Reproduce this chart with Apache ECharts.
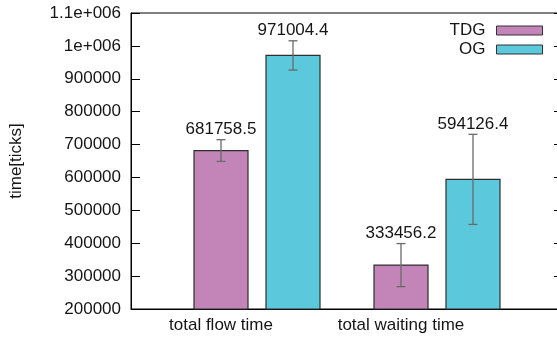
<!DOCTYPE html>
<html>
<head>
<meta charset="utf-8">
<script src="https://cdn.jsdelivr.net/npm/echarts@6/dist/echarts.min.js"></script>
<style>
  html, body { margin: 0; padding: 0; background: #fff; overflow: hidden; }
  /* the plot frame runs a few pixels past the right edge of the page */
  #chart { width: 570px; height: 338px; }
</style>
</head>
<body>
<div id="chart"></div>
<script>
// Categories and series
const categories = ['total flow time', 'total waiting time'];
const seriesNames = ['TDG', 'OG'];
const tdgValues = [681758.5, 333456.2];
const tdgErrors = [33000, 65500];
const ogValues = [971004.4, 594126.4];
const ogErrors = [44500, 137000];
// Y tick labels that use exponent notation
const yTickLabels = { 1100000: '1.1e+006', 1000000: '1e+006' };

const FONT = '"Liberation Sans", Arial, sans-serif';
const TEXT = '#151515';
const Y_MIN = 200000, Y_MAX = 1100000, Y_STEP = 100000;
const BAR_W = 0.3;          // bar width in x-axis units
const OFFSETS = [0, 0.4];   // bar centre offset from the category position
const COLORS = ['#c384b8', '#5bc8db'];

function renderer(offset, fill) {
  return function (params, api) {
    const cat = api.value(0), val = api.value(1), err = api.value(2);
    const x = cat + offset;
    const tl = api.coord([x - BAR_W / 2, val]);
    const br = api.coord([x + BAR_W / 2, Y_MIN]);
    const hi = api.coord([x, val + err]);
    const lo = api.coord([x, val - err]);
    const cap = 4.5;
    const ebStyle = { stroke: '#6a6a6a', lineWidth: 1.3 };
    return {
      type: 'group',
      children: [
        { type: 'rect',
          shape: { x: tl[0], y: tl[1], width: br[0] - tl[0], height: br[1] - tl[1] },
          style: { fill: fill, stroke: '#2e2e2e', lineWidth: 1.2 } },
        { type: 'line', shape: { x1: hi[0], y1: hi[1], x2: lo[0], y2: lo[1] }, style: ebStyle },
        { type: 'line', shape: { x1: hi[0] - cap, y1: hi[1], x2: hi[0] + cap, y2: hi[1] }, style: ebStyle },
        { type: 'line', shape: { x1: lo[0] - cap, y1: lo[1], x2: lo[0] + cap, y2: lo[1] }, style: ebStyle },
        { type: 'text',
          style: { text: val.toFixed(1), x: hi[0], y: hi[1] - 2, align: 'center',
                   verticalAlign: 'bottom', font: '17px ' + FONT, fill: TEXT } }
      ]
    };
  };
}

function rows(values, errors) {
  return values.map((v, i) => [i, v, errors[i]]);
}

const chart = echarts.init(document.getElementById('chart'), null, { renderer: 'canvas' });
chart.setOption({
  animation: false,
  backgroundColor: '#fff',
  textStyle: { fontFamily: FONT },
  grid: { left: 131, top: 13, right: 7, bottom: 29, show: true,
          borderColor: '#000', borderWidth: 1, backgroundColor: 'transparent' },
  legend: {
    orient: 'vertical', right: 27, top: 22, align: 'right',
    itemWidth: 46, itemHeight: 9, itemGap: 2, padding: 0,
    icon: 'rect',
    textStyle: { fontSize: 17, color: TEXT, fontFamily: FONT, padding: [0, 6, 0, 0] },
    data: seriesNames.map(n => ({ name: n, itemStyle: { borderColor: '#333', borderWidth: 1 } }))
  },
  xAxis: {
    type: 'value', min: -0.5, max: 1.9,
    splitLine: { show: false },
    axisTick: { show: false },
    axisLine: { show: true, onZero: false, lineStyle: { color: '#000', width: 1 } },
    axisLabel: {
      customValues: [0, 1],
      formatter: v => categories[v] || '',
      fontSize: 17, color: TEXT, fontFamily: FONT, margin: 8
    }
  },
  yAxis: [
    {
      type: 'value', position: 'left', min: Y_MIN, max: Y_MAX, interval: Y_STEP,
      name: 'time[ticks]', nameLocation: 'middle', nameGap: 106,
      nameTextStyle: { fontSize: 17, color: TEXT, fontFamily: FONT },
      splitLine: { show: false },
      axisLine: { show: true, onZero: false, lineStyle: { color: '#000', width: 1 } },
      axisTick: { show: true, inside: true, length: 9, lineStyle: { color: '#000' } },
      axisLabel: {
        fontSize: 17, color: TEXT, fontFamily: FONT, margin: 10,
        formatter: v => yTickLabels[v] || String(v)
      }
    },
    {
      type: 'value', position: 'right', min: Y_MIN, max: Y_MAX, interval: Y_STEP,
      splitLine: { show: false },
      axisLine: { show: true, onZero: false, lineStyle: { color: '#000', width: 1 } },
      axisTick: { show: true, inside: true, length: 9, lineStyle: { color: '#000' } },
      axisLabel: { show: false }
    }
  ],
  series: [
    { name: seriesNames[0], type: 'custom', itemStyle: { color: COLORS[0] },
      renderItem: renderer(OFFSETS[0], COLORS[0]), data: rows(tdgValues, tdgErrors),
      encode: { x: 0, y: [1, 2] }, clip: false },
    { name: seriesNames[1], type: 'custom', itemStyle: { color: COLORS[1] },
      renderItem: renderer(OFFSETS[1], COLORS[1]), data: rows(ogValues, ogErrors),
      encode: { x: 0, y: [1, 2] }, clip: false }
  ]
});
</script>
</body>
</html>
